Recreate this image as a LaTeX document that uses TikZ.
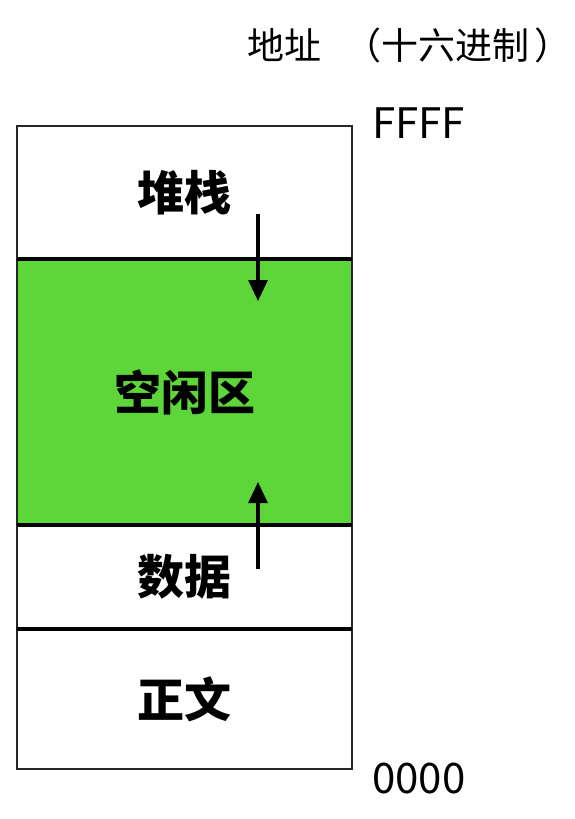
\documentclass[tikz,border=0pt]{standalone}
\usepackage{fontspec}
\setmainfont{Noto Sans CJK SC}
\usepackage{tikz}
\usetikzlibrary{arrows.meta}
\definecolor{freegreen}{RGB}{92,214,56}

\tikzset{
  region/.style={shape=rectangle,minimum width=335pt,inner sep=0pt,font=\fontsize{47}{50}\selectfont\bfseries},
  addr/.style={anchor=west,inner sep=0pt,font=\fontsize{42}{45}\selectfont},
  growarrow/.style={draw=black,line width=3.2pt,-{Triangle[width=19pt,length=21pt]}}
}

\begin{document}
\begin{tikzpicture}[x=1pt,y=-1pt]
\useasboundingbox (0,0) rectangle (575,819);

\node[region,minimum height=133pt] (S) at (184.5,192.5) {堆栈};
\node[region,minimum height=266pt,fill=freegreen] (F) at (184.5,392) {空闲区};
\node[region,minimum height=104pt] (D) at (184.5,577) {数据};
\node[region,minimum height=140pt] (T) at (184.5,699) {正文};

\draw[line width=1.6pt,draw=black!85] (S.north west) rectangle (T.south east);
\draw[line width=3.6pt] (S.south west) -- (S.south east);
\draw[line width=3.6pt] (F.south west) -- (F.south east);
\draw[line width=3.6pt] (D.south west) -- (D.south east);

\coordinate (S1) at (258,214);
\coordinate (S2) at (258,301);
\coordinate (D1) at (258,569);
\coordinate (D2) at (258,482);
\draw[growarrow] (S1) -- (S2);
\draw[growarrow] (D1) -- (D2);

\node[addr] (H) at (372,123) {FFFF};
\node[addr] (L) at (372,779) {0000};
\node[addr,font=\fontsize{37}{40}\selectfont] (title) at (247,45) {地址\hspace{23pt}（十六进制\hspace{5pt}）};

\end{tikzpicture}
\end{document}
